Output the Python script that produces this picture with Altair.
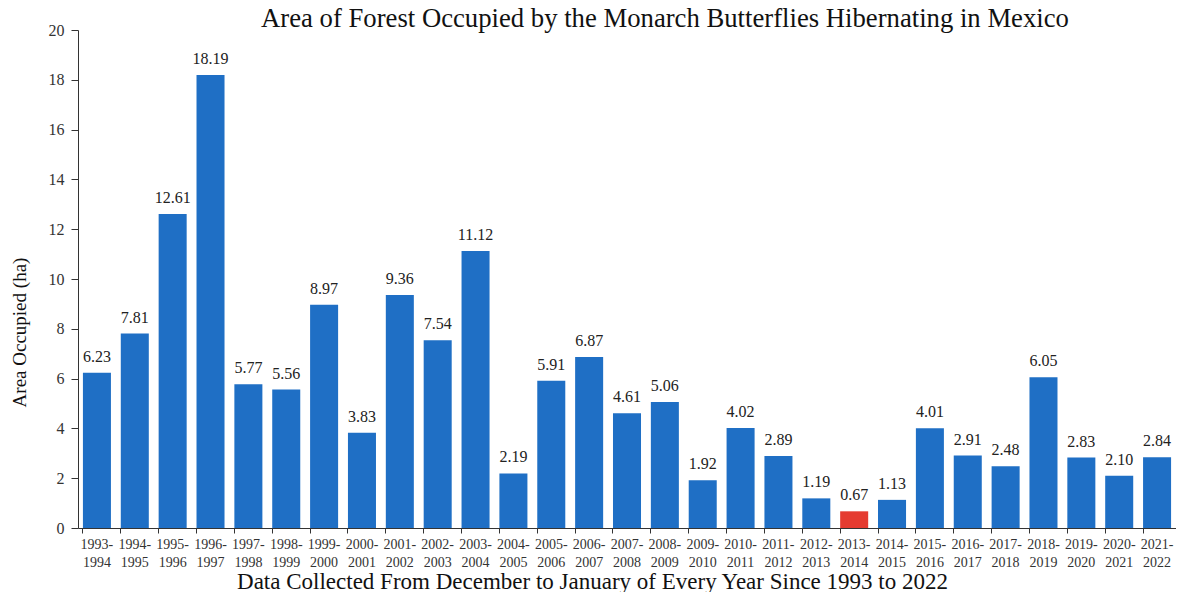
import altair as alt
import pandas as pd

seasons = ["1993-1994", "1994-1995", "1995-1996", "1996-1997", "1997-1998", "1998-1999",
           "1999-2000", "2000-2001", "2001-2002", "2002-2003", "2003-2004", "2004-2005",
           "2005-2006", "2006-2007", "2007-2008", "2008-2009", "2009-2010", "2010-2011",
           "2011-2012", "2012-2013", "2013-2014", "2014-2015", "2015-2016", "2016-2017",
           "2017-2018", "2018-2019", "2019-2020", "2020-2021", "2021-2022"]
area = [6.23, 7.81, 12.61, 18.19, 5.77, 5.56, 8.97, 3.83, 9.36, 7.54, 11.12, 2.19,
        5.91, 6.87, 4.61, 5.06, 1.92, 4.02, 2.89, 1.19, 0.67, 1.13, 4.01, 2.91,
        2.48, 6.05, 2.83, 2.10, 2.84]
highlight = ["2013-2014"]
title_text = ["Area of Forest Occupied by the Monarch Butterflies Hibernating in Mexico"]

df = pd.DataFrame({"season": seasons, "area": area})
df["hl"] = df["season"].isin(highlight)

FONT = "Liberation Serif"

x = alt.X("season:N", sort=seasons,
          scale=alt.Scale(paddingInner=0.26, paddingOuter=0.13),
          axis=alt.Axis(title="Data Collected From December to January of Every Year Since 1993 to 2022",
                        labelAngle=0,
                        labelExpr="[slice(datum.label,0,5), slice(datum.label,5)]",
                        labelFont=FONT, labelFontSize=14, labelColor="#333333",
                        labelPadding=4, labelLineHeight=18,
                        bandPosition=0, tickSize=5, tickColor="#333333",
                        domainColor="#333333",
                        titleFont=FONT, titleFontSize=23, titleFontWeight="normal",
                        titleColor="#111111", titleBaseline="alphabetic",
                        titleX=514, titleY=60))
y = alt.Y("area:Q", scale=alt.Scale(domain=[0, 20]),
          axis=alt.Axis(title="Area Occupied (ha)", values=list(range(0, 21, 2)),
                        grid=False, labelFont=FONT, labelFontSize=16,
                        labelColor="#333333", tickSize=7, tickColor="#333333",
                        domainColor="#333333", labelPadding=7,
                        titleFont=FONT, titleFontSize=19, titleFontWeight="normal",
                        titleColor="#111111", titleX=-49, titleY=302))

bars = alt.Chart(df).mark_bar().encode(
    x=x, y=y,
    color=alt.condition(alt.datum.hl, alt.value("#E53B30"), alt.value("#1F6FC5")),
)
labels = alt.Chart(df).mark_text(dy=-16, font=FONT, fontSize=16, color="#222222").encode(
    x=alt.X("season:N", sort=seasons),
    y="area:Q",
    text=alt.Text("area:Q", format=".2f"),
)
title = alt.Chart(pd.DataFrame({"t": title_text})).mark_text(
    font=FONT, fontSize=26.7, color="#111111", baseline="alphabetic", align="center"
).encode(text="t:N", x=alt.value(587), y=alt.value(-3))

chart = (bars + labels + title).properties(
    width=1098, height=498,
    autosize=alt.AutoSizeParams(type="none"),
    padding={"left": 70, "top": 22, "right": 0, "bottom": 64},
).configure_view(stroke=None)

chart.save("out.html", embed_options={"renderer": "svg", "actions": False})
